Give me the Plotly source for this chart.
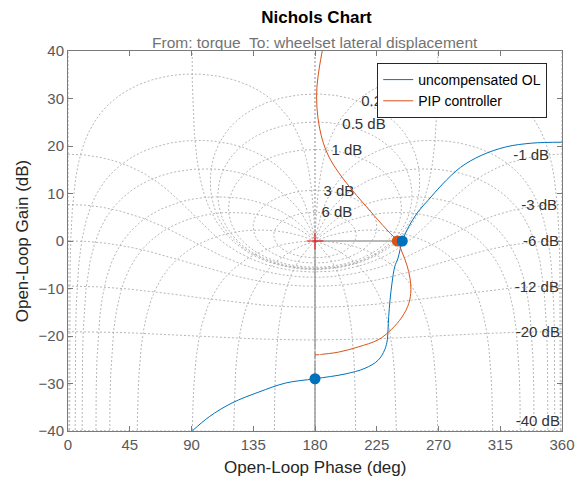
import numpy as np
import plotly.graph_objects as go

# --- open-loop frequency responses (phase in deg, gain in dB)
uncomp_phase = [90.5, 102.9, 119.5, 139.1, 158.6, 180.0, 201.9, 216.4, 226.0, 230.8,
                232.7, 233.2, 233.7, 234.7, 236.1, 238.1, 240.5, 243.6, 247.7, 255.0,
                262.5, 273.0, 286.0, 301.0, 319.0, 338.0, 360.0]
uncomp_gain = [-40.0, -37.0, -34.1, -31.8, -29.9, -29.0, -28.0, -26.8, -25.1, -22.9,
               -20.8, -18.7, -15.9, -12.4, -8.9, -5.4, -3.6, 0.0, 2.7, 6.1,
               8.6, 12.0, 15.5, 18.0, 19.8, 20.6, 20.8]

pip_phase = [185.6, 183.2, 181.4, 181.4, 183.2, 186.1, 190.5, 197.0, 205.7, 215.1,
             226.0, 233.2, 240.0, 243.4, 247.0, 249.2, 249.9, 248.4, 243.4, 235.4,
             226.0, 211.5, 197.0, 180.0]
pip_gain = [40.5, 36.6, 32.4, 28.2, 24.0, 20.6, 17.5, 14.5, 11.2, 8.0,
            4.4, 2.1, 0.0, -2.3, -5.1, -7.8, -10.3, -13.1, -16.0, -18.7,
            -20.8, -22.3, -23.4, -24.0]

# stability margin points (phase crossover / gain crossover)
uncomp_margin_phase = [243.6, 180.0]
uncomp_margin_gain = [0.0, -29.0]
pip_pm_phase = [240.0]
pip_pm_gain = [0.0]
pip_gm_phase = [180.0]
pip_gm_gain = [-24.0]

critical_phase = [180.0]
critical_gain = [0.0]

# Nichols grid: closed-loop magnitude (dB) and closed-loop phase (deg) levels
cl_mag_db = [6, 3, 1, 0.5, 0.25, 0, -1, -3, -6, -12, -20, -40]
cl_phase_deg = [0, 1, 5, 10, 20, 30, 50, 90, 120, 150, 180]

pos_labels = ["6 dB", "3 dB", "1 dB", "0.5 dB", "0.25 dB"]
pos_label_phase = [184.7, 186.2, 192.0, 199.9, 213.7]
pos_label_gain = [5.9, 10.3, 18.9, 24.4, 29.3]
neg_labels = ["-1 dB", "-3 dB", "-6 dB", "-12 dB", "-20 dB", "-40 dB"]
neg_label_phase = [350.6, 356.4, 357.8, 357.8, 358.5, 358.5]
neg_label_gain = [17.9, 7.4, -0.2, -9.9, -19.4, -38.1]

BLUE = "#0072BD"
ORANGE = "#D95319"
GRID = "#a3a3a3"
FONT = "Liberation Sans, Arial, sans-serif"

# the page body adds an 8px margin, so the figure is drawn 8px smaller
W, H = 587 - 8, 482 - 8
L, T = 60, 43          # plot area starts at page (68, 51)
PW, PH = 497, 380


def ol_from_cl(Tc):
    """Open-loop point G = T/(1-T) -> (phase in 0..360, gain dB)."""
    G = Tc / (1 - Tc)
    ph = np.mod(np.degrees(np.angle(G)), 360.0)
    gdb = 20 * np.log10(np.abs(G))
    return ph, gdb


def add_segment(xs, ys, ph, gdb):
    # break the line wherever phase wraps around
    brk = np.where(np.abs(np.diff(ph)) > 90)[0]
    start = 0
    for b in list(brk) + [len(ph) - 1]:
        xs.extend(ph[start:b + 1].tolist())
        ys.extend(gdb[start:b + 1].tolist())
        xs.append(None)
        ys.append(None)
        start = b + 1


grid_x, grid_y = [], []

# constant closed-loop magnitude curves
for mdb in cl_mag_db:
    M = 10 ** (mdb / 20)
    if M > 1:
        th = np.linspace(0, 2 * np.pi, 6000)
    else:
        th = np.linspace(1e-7, 2 * np.pi - 1e-7, 6000)
    ph, gdb = ol_from_cl(M * np.exp(1j * th))
    gdb = np.clip(gdb, -80, 80)
    add_segment(grid_x, grid_y, ph, gdb)

# constant closed-loop phase curves (and their mirror about 180 deg)
Ms = np.concatenate([np.logspace(-3, -0.1, 1500),
                     np.linspace(10 ** -0.1, 10 ** 0.1, 5000),
                     np.logspace(0.1, 3, 1500)])
for p in cl_phase_deg:
    ph, gdb = ol_from_cl(Ms * np.exp(-1j * np.radians(p)))
    gdb = np.clip(gdb, -80, 80)
    add_segment(grid_x, grid_y, ph, gdb)
    add_segment(grid_x, grid_y, 360.0 - ph, gdb)

fig = go.Figure()

fig.add_trace(go.Scatter(
    x=grid_x, y=grid_y, mode="lines",
    line=dict(color=GRID, width=0.8, dash="2px,2px"),
    hoverinfo="skip", showlegend=False,
))

fig.add_trace(go.Scatter(
    x=pos_label_phase, y=pos_label_gain, text=pos_labels, mode="text",
    textposition="middle right", textfont=dict(size=15, color="#333333", family=FONT),
    hoverinfo="skip", showlegend=False,
))
fig.add_trace(go.Scatter(
    x=neg_label_phase, y=neg_label_gain, text=neg_labels, mode="text",
    textposition="middle left", textfont=dict(size=15, color="#333333", family=FONT),
    hoverinfo="skip", showlegend=False,
))

# margin lines from the critical point
fig.add_trace(go.Scatter(
    x=[critical_phase[0], max(uncomp_margin_phase[0], pip_pm_phase[0])],
    y=[critical_gain[0], critical_gain[0]],
    mode="lines", line=dict(color="#a0a0a0", width=1.5),
    hoverinfo="skip", showlegend=False,
))
fig.add_trace(go.Scatter(
    x=[critical_phase[0], critical_phase[0]], y=[critical_gain[0], -40],
    mode="lines", line=dict(color="#a0a0a0", width=1.5),
    hoverinfo="skip", showlegend=False,
))

fig.add_trace(go.Scatter(
    x=uncomp_phase, y=uncomp_gain, mode="lines", name="uncompensated OL",
    line=dict(color=BLUE, width=1, shape="spline"),
))
fig.add_trace(go.Scatter(
    x=pip_phase, y=pip_gain, mode="lines", name="PIP controller",
    line=dict(color=ORANGE, width=1, shape="spline"),
))

fig.add_trace(go.Scatter(
    x=pip_pm_phase, y=pip_pm_gain, mode="markers",
    marker=dict(color=ORANGE, size=11), showlegend=False,
))
fig.add_trace(go.Scatter(
    x=uncomp_margin_phase, y=uncomp_margin_gain, mode="markers",
    marker=dict(color=BLUE, size=11), showlegend=False,
))
fig.add_trace(go.Scatter(
    x=pip_gm_phase, y=pip_gm_gain, mode="markers",
    marker=dict(color="white", size=10, symbol="circle-open",
                line=dict(color=ORANGE, width=1)),
    showlegend=False,
))
fig.add_trace(go.Scatter(
    x=critical_phase, y=critical_gain, mode="markers",
    marker=dict(symbol="cross-thin", size=12, line=dict(color="red", width=1)),
    hoverinfo="skip", showlegend=False,
))

axis_common = dict(
    showgrid=False, zeroline=False, showline=True, linecolor="#7a7a7a", linewidth=1,
    mirror="ticks", ticks="inside", ticklen=5, tickcolor="#7a7a7a",
    tickfont=dict(size=15, color="#595959", family=FONT),
)

fig.update_layout(
    width=W, height=H,
    margin=dict(l=L, r=W - L - PW, t=T, b=H - T - PH),
    paper_bgcolor="white", plot_bgcolor="white",
    font=dict(family=FONT),
    title=dict(text="<b>Nichols Chart</b>", x=(L + PW / 2) / W, xanchor="center",
               y=1 - 9.5 / H, yanchor="middle",
               font=dict(size=17, color="black", family=FONT)),
    xaxis=dict(range=[0, 360], tickvals=list(range(0, 361, 45)), **axis_common),
    yaxis=dict(range=[-40, 40], tickvals=list(range(-40, 41, 10)), **axis_common),
    legend=dict(x=0.626, y=(431 - 63) / PH, xanchor="left", yanchor="top",
                bgcolor="white", bordercolor="#262626", borderwidth=1,
                font=dict(size=14, color="black", family=FONT)),
    annotations=[
        dict(text="From: torque  To: wheelset lateral displacement",
             xref="paper", yref="paper", x=0.5, y=(431 - 42) / PH,
             xanchor="center", yanchor="middle", showarrow=False,
             font=dict(size=15.5, color="#737373", family=FONT)),
        dict(text="Open-Loop Phase (deg)", xref="paper", yref="paper",
             x=0.5, y=(431 - 467) / PH, xanchor="center", yanchor="middle",
             showarrow=False, font=dict(size=17, color="#262626", family=FONT)),
        dict(text="Open-Loop Gain (dB)", xref="paper", yref="paper",
             x=(22 - 68) / PW, y=0.5, xanchor="center", yanchor="middle",
             textangle=-90, showarrow=False,
             font=dict(size=17, color="#262626", family=FONT)),
    ],
)

fig.write_html("out.html")
